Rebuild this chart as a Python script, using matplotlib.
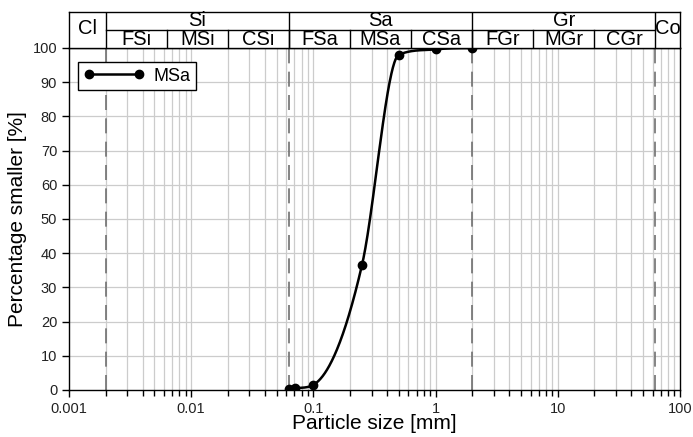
import numpy as np
import matplotlib
matplotlib.use("Agg")
import matplotlib.pyplot as plt
from matplotlib.ticker import FixedLocator, NullFormatter

plt.rcParams['font.family'] = ['Liberation Sans', 'DejaVu Sans']

# Data
size_mm = [0.063, 0.071, 0.1, 0.25, 0.5, 1.0, 2.0]
pct_smaller = [0.3, 0.5, 1.5, 36.5, 98.0, 99.6, 100.0]
series_label = "MSa"

major_groups = ["Cl", "Si", "Sa", "Gr", "Co"]
major_bounds = [0.001, 0.002, 0.063, 2.0, 63.0, 100.0]
sub_groups = ["FSi", "MSi", "CSi", "FSa", "MSa", "CSa", "FGr", "MGr", "CGr"]
sub_bounds = [0.002, 0.0063, 0.02, 0.063, 0.2, 0.63, 2.0, 6.3, 20.0, 63.0]
x_ticks = [0.001, 0.01, 0.1, 1, 10, 100]
x_tick_labels = ["0.001", "0.01", "0.1", "1", "10", "100"]
y_ticks = list(range(0, 101, 10))


def smooth_curve(x, y, xq):
    """Monotone cubic Hermite interpolation (centered slopes, Fritsch-Carlson limited)."""
    x = np.asarray(x, float); y = np.asarray(y, float)
    h = np.diff(x); d = np.diff(y) / h
    n = len(x); m = np.zeros(n)
    m[0] = d[0]; m[-1] = 0.0
    for k in range(1, n - 1):
        c = (h[k] * d[k - 1] + h[k - 1] * d[k]) / (h[k - 1] + h[k])
        m[k] = min(c, 3 * min(d[k - 1], d[k]))
    idx = np.clip(np.searchsorted(x, xq) - 1, 0, n - 2)
    t = (xq - x[idx]) / h[idx]
    h00 = 2 * t**3 - 3 * t**2 + 1; h10 = t**3 - 2 * t**2 + t
    h01 = -2 * t**3 + 3 * t**2; h11 = t**3 - t**2
    return h00 * y[idx] + h10 * h[idx] * m[idx] + h01 * y[idx + 1] + h11 * h[idx] * m[idx + 1]


fig = plt.figure(figsize=(6.93, 4.37), dpi=100)
ax = fig.add_axes([0.0996, 0.1076, 0.8814, 0.7826])
hx = fig.add_axes([0.0996, 0.8902, 0.8814, 0.0824])

for a in (ax, hx):
    a.set_xscale('log')
    a.set_xlim(0.001, 100)

ax.set_ylim(0, 100)
grid_c = '#cccccc'
minor_pos = [m * 10.0**e for e in range(-3, 2) for m in range(2, 10)]
for xv in minor_pos + x_ticks[1:-1]:
    ax.axvline(xv, color=grid_c, lw=0.9, zorder=0)
for yv in y_ticks[1:-1]:
    ax.axhline(yv, color=grid_c, lw=0.9, zorder=0)
for xv in major_bounds[1:-1]:
    ax.axvline(xv, color='#707070', lw=1.2, ls=(0, (9, 5)), zorder=1)

lx = np.log10(size_mm)
xq = np.linspace(lx[0], lx[-1], 500)
yq = smooth_curve(lx, pct_smaller, xq)
ax.plot(10**xq, yq, color='black', lw=1.8, zorder=3)
ax.plot(size_mm, pct_smaller, 'o', color='black', ms=6, zorder=4)
ax.plot([], [], '-o', color='black', lw=1.8, ms=6, label=series_label)

leg = ax.legend(loc='upper left', numpoints=2, fontsize=13, frameon=True,
                fancybox=False, handlelength=3.4, borderpad=0.3,
                handletextpad=0.5, borderaxespad=0.0,
                bbox_to_anchor=(0.0145, 0.958))
leg.get_frame().set_edgecolor('black')
leg.get_frame().set_linewidth(1.0)
leg.get_frame().set_alpha(1.0)

ax.xaxis.set_major_locator(FixedLocator(x_ticks))
ax.set_xticklabels(x_tick_labels)
ax.xaxis.set_minor_locator(FixedLocator(minor_pos))
ax.xaxis.set_minor_formatter(NullFormatter())
ax.set_yticks(y_ticks)
ax.tick_params(axis='both', which='major', direction='out', length=5, width=1,
               labelsize=10.5, colors='black', labelcolor='#222222')
ax.tick_params(axis='x', which='minor', direction='out', length=4, width=1)
ax.set_xlabel("Particle size [mm]", fontsize=15, labelpad=-1)
ax.set_ylabel("Percentage smaller [%]", fontsize=15, labelpad=4)
for s in ax.spines.values():
    s.set_linewidth(1.0)

# header
hx.set_ylim(0, 2)
hx.set_xticks([]); hx.set_yticks([])
hx.xaxis.set_minor_locator(FixedLocator([]))
for s in hx.spines.values():
    s.set_linewidth(1.0)
hx.plot([0.002, 63], [1, 1], color='black', lw=1.0)
for xv in major_bounds[1:-1]:
    hx.plot([xv, xv], [0, 2], color='black', lw=1.0)
for xv in sub_bounds[1:-1]:
    hx.plot([xv, xv], [0, 1], color='black', lw=1.0)
for i, name in enumerate(major_groups):
    a, b = major_bounds[i], major_bounds[i + 1]
    xc = np.sqrt(a * b)
    yc = 1.5 if name in ("Si", "Sa", "Gr") else 1.1
    hx.text(xc, yc, name, ha='center', va='center', fontsize=14.5)
for i, name in enumerate(sub_groups):
    a, b = sub_bounds[i], sub_bounds[i + 1]
    hx.text(np.sqrt(a * b), 0.47, name, ha='center', va='center', fontsize=14.5)

fig.savefig("out.png", dpi=100)
